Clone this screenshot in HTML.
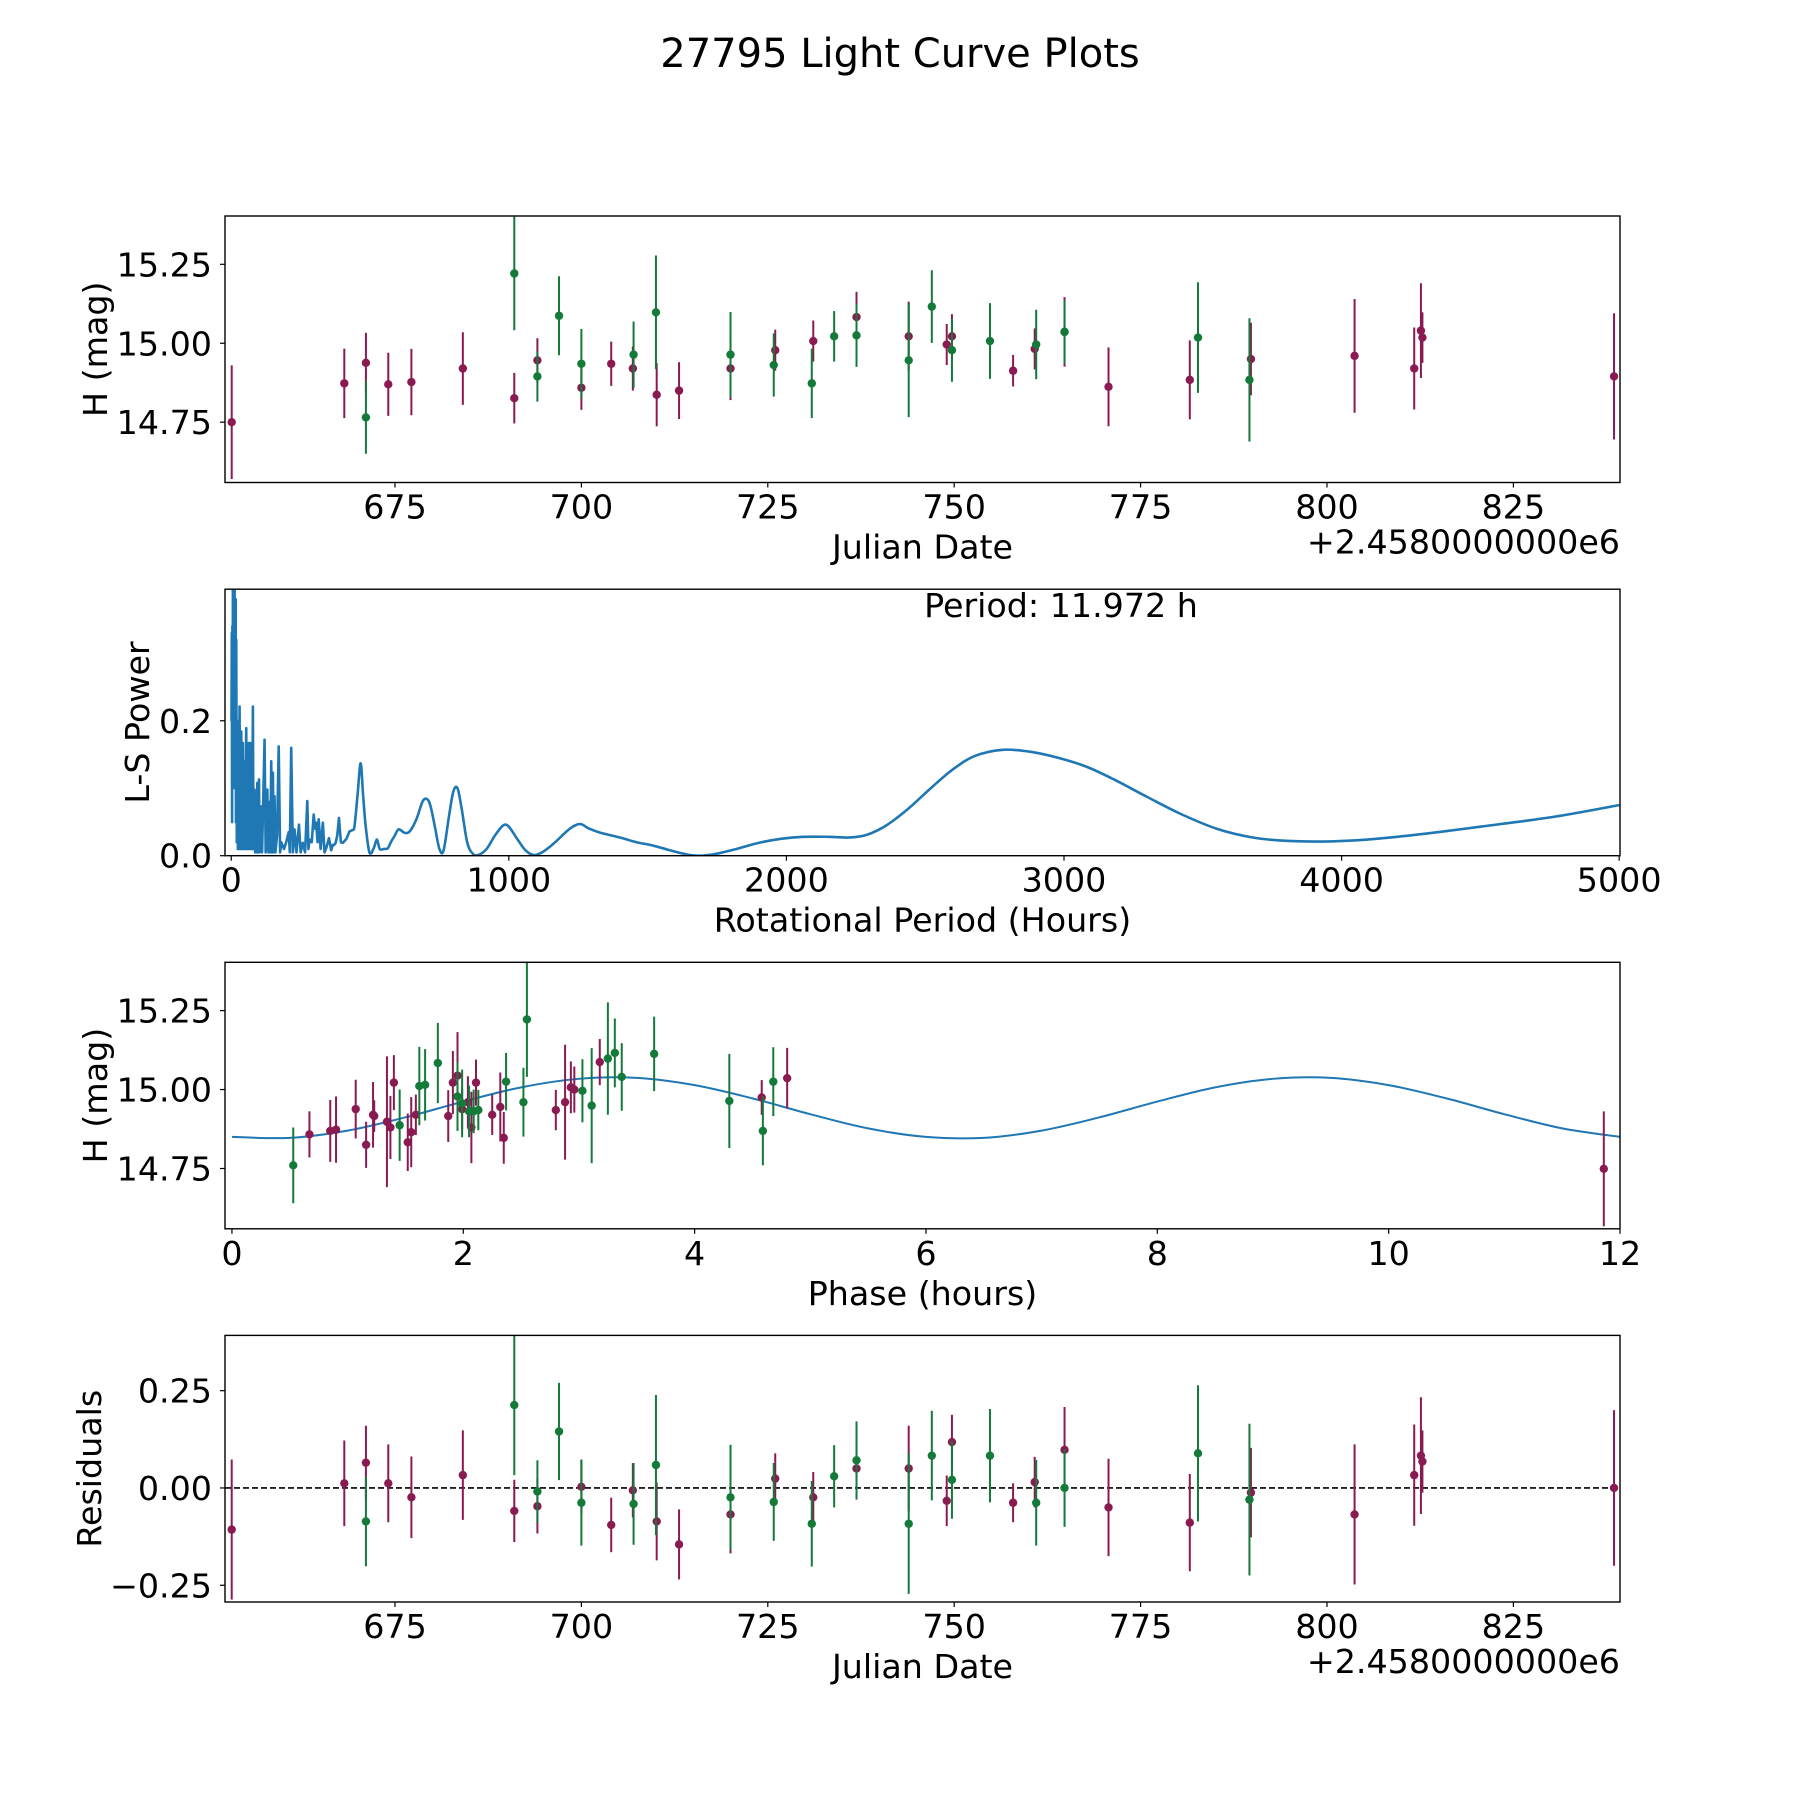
<!DOCTYPE html>
<html><head><meta charset="utf-8"><title>27795 Light Curve Plots</title>
<style>html,body{margin:0;padding:0;background:#fff}svg{display:block}text{font-family:"DejaVu Sans","Liberation Sans",sans-serif;fill:#000}</style>
</head><body>
<svg id="fig" xmlns="http://www.w3.org/2000/svg" width="1800" height="1800" viewBox="0 0 1800 1800">
<rect x="0" y="0" width="1800" height="1800" fill="#fff"/>
<text x="900" y="67" font-size="40" text-anchor="middle">27795 Light Curve Plots</text>
</svg>
<script>
// ---- data: panel 1 & 4 (Julian date offsets from 2458000) ----
const purpleJD = [653.1,668.2,671.1,674.1,677.2,684.1,691.0,694.1,700.0,704.0,706.9,710.1,713.1,720.0,726.0,731.1,736.9,743.9,749.0,749.7,757.9,760.8,764.8,770.7,781.6,789.8,803.7,811.7,812.6,812.8,838.5];
const purpleMag = [14.750,14.873,14.938,14.870,14.877,14.920,14.826,14.946,14.859,14.935,14.920,14.837,14.850,14.920,14.978,15.007,15.083,15.022,14.996,15.022,14.913,14.982,15.036,14.862,14.884,14.950,14.960,14.920,15.040,15.018,14.895];
const purpleErr = [0.18,0.11,0.095,0.10,0.105,0.115,0.08,0.07,0.07,0.07,0.07,0.10,0.09,0.10,0.065,0.065,0.08,0.11,0.065,0.07,0.05,0.065,0.11,0.125,0.125,0.115,0.18,0.13,0.15,0.08,0.2];
const purpleRes = [-0.107,0.012,0.065,0.012,-0.024,0.033,-0.059,-0.047,0.003,-0.095,-0.006,-0.086,-0.145,-0.068,0.024,-0.024,0.05,0.05,-0.033,0.118,-0.038,0.015,0.098,-0.05,-0.089,-0.012,-0.068,0.033,0.083,0.068,0.0];
const greenJD = [671.1,691.0,694.1,697.0,700.0,707.0,710.0,720.0,725.8,730.9,733.9,736.9,743.9,747.0,749.7,754.8,761.0,764.8,782.7,789.6];
const greenMag = [14.765,15.221,14.895,15.087,14.935,14.964,15.098,14.964,14.931,14.873,15.022,15.025,14.946,15.116,14.978,15.007,14.996,15.036,15.018,14.884];
const greenErr = [0.115,0.18,0.08,0.125,0.11,0.105,0.18,0.135,0.10,0.11,0.08,0.10,0.18,0.115,0.10,0.12,0.11,0.10,0.175,0.195];
const greenRes = [-0.086,0.213,-0.009,0.145,-0.038,-0.041,0.059,-0.024,-0.036,-0.092,0.03,0.071,-0.092,0.083,0.021,0.083,-0.038,0.0,0.089,-0.03];
// ---- data: panel 2 periodogram ----
const lsPeriod = [1,2,3,4,5,6,8,10,12,14,16,17,18,20,22,24,27,28,30,32,34,35,36,38,40,41,42,44,48,50,54,56,60,61,63,65,69,71,74,75,78,80,84,86,89,91,94,96,100,102,108,111,120,124,130,134,139,141,144,147,150,153,156,159,165,171,176,180,190,198,207,211,216,222,228,235,244,250,258,266,274,278,282,290,297,302,306,311,315,322,330,336,342,352,360,366,371,376,382,388,395,402,415,426,442,455,466,475,483,495,502,510,516,525,533,538,550,564,575,588,603,624,643,667,690,708,720,735,750,765,785,800,815,830,850,870,890,920,950,980,1000,1030,1060,1090,1120,1150,1180,1220,1256,1290,1330,1400,1460,1520,1580,1640,1690,1750,1820,1900,1980,2060,2150,2230,2290,2360,2440,2520,2600,2680,2780,2880,2980,3080,3180,3300,3420,3550,3680,3800,3930,4060,4200,4350,4500,4650,4800,5000];
const lsPower = [0.2,0.33,0.05,0.34,0.1,0.42,0.2,0.42,0.42,0.1,0.38,0.05,0.32,0.02,0.2,0.01,0.15,0.01,0.221,0.01,0.15,0.01,0.184,0.01,0.12,0.01,0.167,0.01,0.14,0.01,0.189,0.01,0.12,0.01,0.167,0.01,0.167,0.01,0.09,0.01,0.221,0.01,0.098,0.005,0.06,0.005,0.108,0.005,0.113,0.005,0.073,0.005,0.172,0.005,0.098,0.005,0.08,0.005,0.14,0.005,0.123,0.005,0.088,0.005,0.03,0.162,0.005,0.02,0.01,0.02,0.035,0.005,0.16,0.005,0.039,0.005,0.046,0.005,0.019,0.005,0.081,0.01,0.024,0.02,0.061,0.04,0.049,0.02,0.054,0.01,0.049,0.005,0.011,0.026,0.008,0.016,0.016,0.019,0.03,0.056,0.02,0.019,0.025,0.036,0.039,0.09,0.137,0.09,0.049,0.01,0.003,0.008,0.014,0.024,0.012,0.009,0.01,0.011,0.02,0.029,0.039,0.034,0.036,0.054,0.081,0.083,0.07,0.04,0.01,0.008,0.06,0.095,0.1,0.07,0.02,0.003,0.001,0.01,0.03,0.045,0.043,0.025,0.008,0.001,0.005,0.014,0.025,0.04,0.047,0.04,0.034,0.027,0.02,0.015,0.008,0.002,0.0,0.003,0.01,0.019,0.025,0.028,0.028,0.027,0.031,0.045,0.07,0.1,0.128,0.148,0.157,0.154,0.145,0.132,0.113,0.087,0.062,0.04,0.027,0.022,0.021,0.023,0.028,0.035,0.043,0.051,0.06,0.075];
// ---- data: panel 3 folded ----
const foldPurplePhase = [0.67,0.85,0.90,1.07,1.16,1.22,1.23,1.34,1.37,1.40,1.52,1.55,1.59,1.87,1.91,1.95,1.99,2.04,2.07,2.11,2.25,2.32,2.35,2.80,2.88,2.93,2.96,3.18,4.58,4.80,11.86];
const foldPurpleMag = [14.858,14.869,14.873,14.938,14.825,14.920,14.916,14.898,14.880,15.022,14.833,14.865,14.920,14.916,15.022,15.044,14.938,14.960,14.880,15.022,14.920,14.945,14.847,14.935,14.960,15.007,15.000,15.087,14.975,15.036,14.749];
const foldPurpleErr = [0.073,0.098,0.105,0.093,0.073,0.104,0.05,0.207,0.1,0.087,0.091,0.111,0.064,0.082,0.1,0.138,0.064,0.082,0.113,0.073,0.064,0.109,0.082,0.064,0.182,0.082,0.073,0.073,0.055,0.096,0.182];
const foldGreenPhase = [0.53,1.45,1.62,1.67,1.78,1.95,1.99,2.05,2.09,2.13,2.37,2.52,2.55,3.03,3.11,3.25,3.31,3.37,3.65,4.30,4.59,4.68];
const foldGreenMag = [14.760,14.887,15.011,15.015,15.084,14.978,14.956,14.931,14.931,14.935,15.025,14.960,15.222,14.996,14.949,15.098,15.116,15.040,15.113,14.964,14.869,15.025];
const foldGreenErr = [0.12,0.113,0.124,0.113,0.127,0.109,0.107,0.082,0.069,0.064,0.091,0.109,0.182,0.1,0.182,0.178,0.109,0.107,0.118,0.149,0.109,0.109];
const modelPhase = [0,0.5,1,1.5,2,2.5,3,3.5,4,4.5,5,5.5,6,6.5,7,7.5,8,8.5,9,9.5,10,10.5,11,11.5,12];
const modelMag = [14.850,14.847,14.870,14.912,14.962,15.007,15.034,15.037,15.014,14.972,14.922,14.877,14.850,14.847,14.870,14.912,14.962,15.007,15.034,15.037,15.014,14.972,14.922,14.877,14.850];
const jdTicks = [675,700,725,750,775,800,825];
const magTicks = [14.75,15.00,15.25];
const magTickLabels = ["14.75","15.00","15.25"];
const lsXTicks = [0,1000,2000,3000,4000,5000];
const lsYTicks = [0.0,0.2];
const lsYTickLabels = ["0.0","0.2"];
const phaseTicks = [0,2,4,6,8,10,12];
const resTicks = [-0.25,0,0.25];
const resTickLabels = ["\u22120.25","0.00","0.25"];

const NS = "http://www.w3.org/2000/svg";
const fig = document.getElementById('fig');
const PURPLE = "#8a1b52", GREEN = "#137a3a", BLUE = "#1f77b4";
const L = 225, R = 1620, FS = 33.3;
function mk(tag, attrs, parent) {
  const e = document.createElementNS(NS, tag);
  for (const k in attrs) e.setAttribute(k, attrs[k]);
  (parent || fig).appendChild(e);
  return e;
}
function scale(d0, d1, p0, p1) { return v => p0 + (v - d0) * (p1 - p0) / (d1 - d0); }

function makeAxes(name, top, bottom, xd, yd) {
  const g = mk('g', {});
  
  
  const ax = {g, top, bottom, x: scale(xd[0], xd[1], L, R), y: scale(yd[0], yd[1], bottom, top)};
  const clip = mk('clipPath', {id: name + '-clip'}, g);
  mk('rect', {x: L, y: top, width: R - L, height: bottom - top}, clip);
  ax.plot = mk('g', {'clip-path': 'url(#' + name + '-clip)'}, g);
  
  
  return ax;
}
function finishAxes(ax, xt, xl, yt, yl, xlabel, ylabel, ylabelX, offsetText) {
  const f = mk('rect', {x: L, y: ax.top, width: R - L, height: ax.bottom - ax.top, fill: 'none', stroke: '#000', 'stroke-width': 1.4}, ax.g);
  
  
  xt.forEach((v, i) => {
    const px = ax.x(v);
    mk('line', {x1: px, x2: px, y1: ax.bottom, y2: ax.bottom + 5, stroke: '#000', 'stroke-width': 1.2}, ax.g);
    const t = mk('text', {x: px, y: ax.bottom + 36, 'font-size': FS, 'text-anchor': 'middle'}, ax.g);
    
    
    t.textContent = xl[i];
  });
  yt.forEach((v, i) => {
    const py = ax.y(v);
    mk('line', {x1: L - 5, x2: L, y1: py, y2: py, stroke: '#000', 'stroke-width': 1.2}, ax.g);
    const t = mk('text', {x: 212, y: py + 12, 'font-size': FS, 'text-anchor': 'end'}, ax.g);
    
    
    t.textContent = yl[i];
  });
  const xt2 = mk('text', {x: (L + R) / 2, y: ax.bottom + 76, 'font-size': FS, 'text-anchor': 'middle'}, ax.g);
  
  
  xt2.textContent = xlabel;
  const cy = (ax.top + ax.bottom) / 2;
  const yt2 = mk('text', {x: ylabelX, y: cy, 'font-size': FS, 'text-anchor': 'middle', transform: 'rotate(-90 ' + ylabelX + ' ' + cy + ')'}, ax.g);
  
  
  yt2.textContent = ylabel;
  if (offsetText) {
    const o = mk('text', {x: R, y: ax.bottom + 71, 'font-size': FS, 'text-anchor': 'end'}, ax.g);
    
    
    o.textContent = offsetText;
  }
}
function errPoints(ax, xs, ys, es, color, name) {
  const g = mk('g', {}, ax.plot);
  
  
  xs.forEach((xv, i) => {
    const px = ax.x(xv);
    const l = mk('line', {x1: px, x2: px, y1: ax.y(ys[i] + es[i]), y2: ax.y(ys[i] - es[i]), stroke: color, 'stroke-width': 2}, g);
    
    
    const c = mk('circle', {cx: px, cy: ax.y(ys[i]), r: 4.2, fill: color}, g);
    
    
  });
}
function fmtLabels(arr) { return arr.map(v => String(v)); }
function curvePath(P, smoothFrom) {
  let d = 'M' + P[0][0].toFixed(2) + ',' + P[0][1].toFixed(2);
  for (let i = 0; i < P.length - 1; i++) {
    const p1 = P[i], p2 = P[i + 1];
    if (i < smoothFrom) { d += ' L' + p2[0].toFixed(2) + ',' + p2[1].toFixed(2); continue; }
    const p0 = P[Math.max(0, i - 1)], p3 = P[Math.min(P.length - 1, i + 2)];
    const c1x = p1[0] + (p2[0] - p0[0]) / 6, c1y = p1[1] + (p2[1] - p0[1]) / 6;
    const c2x = p2[0] - (p3[0] - p1[0]) / 6, c2y = p2[1] - (p3[1] - p1[1]) / 6;
    d += ' C' + c1x.toFixed(2) + ',' + c1y.toFixed(2) + ' ' + c2x.toFixed(2) + ',' + c2y.toFixed(2) + ' ' + p2[0].toFixed(2) + ',' + p2[1].toFixed(2);
  }
  return d;
}

// Panel 1
const a1 = makeAxes('raw-light-curve', 216, 482.5, [652.2, 839.3], [14.559, 15.403]);
errPoints(a1, purpleJD, purpleMag, purpleErr, PURPLE, 'purple-series');
errPoints(a1, greenJD, greenMag, greenErr, GREEN, 'green-series');
finishAxes(a1, jdTicks, fmtLabels(jdTicks), magTicks, magTickLabels, 'Julian Date', 'H (mag)', 107, '+2.4580000000e6');

// Panel 2
const a2 = makeAxes('periodogram', 589.2, 855.7, [-22.5, 5003], [0, 0.395]);
const lsPts = lsPeriod.map((p, i) => [a2.x(p), a2.y(lsPower[i])]);
let smoothIdx = lsPeriod.findIndex(p => p >= 440);
const pl = mk('path', {d: curvePath(lsPts, smoothIdx), fill: 'none', stroke: BLUE, 'stroke-width': 2.6, 'stroke-linejoin': 'round'}, a2.plot);


finishAxes(a2, lsXTicks, fmtLabels(lsXTicks), lsYTicks, lsYTickLabels, 'Rotational Period (Hours)', 'L-S Power', 149, null);
const pt = mk('text', {x: 1061, y: 617, 'font-size': FS, 'text-anchor': 'middle'}, a2.g);


pt.textContent = 'Period: 11.972 h';

// Panel 3
const a3 = makeAxes('phase-folded', 962.3, 1228.8, [-0.06, 12.0], [14.559, 15.403]);
const m = mk('path', {d: curvePath(modelPhase.map((p, i) => [a3.x(p), a3.y(modelMag[i])]), 0), fill: 'none', stroke: BLUE, 'stroke-width': 2}, a3.plot);


errPoints(a3, foldPurplePhase, foldPurpleMag, foldPurpleErr, PURPLE, 'purple-folded-series');
errPoints(a3, foldGreenPhase, foldGreenMag, foldGreenErr, GREEN, 'green-folded-series');
finishAxes(a3, phaseTicks, fmtLabels(phaseTicks), magTicks, magTickLabels, 'Phase (hours)', 'H (mag)', 107, null);

// Panel 4
const a4 = makeAxes('residuals', 1335.4, 1602, [652.2, 839.3], [-0.293, 0.392]);
const zl = mk('line', {x1: L, x2: R, y1: a4.y(0), y2: a4.y(0), stroke: '#000', 'stroke-width': 1.6, 'stroke-dasharray': '6,3'}, a4.plot);


errPoints(a4, purpleJD, purpleRes, purpleErr, PURPLE, 'purple-residuals');
errPoints(a4, greenJD, greenRes, greenErr, GREEN, 'green-residuals');
finishAxes(a4, jdTicks, fmtLabels(jdTicks), resTicks, resTickLabels, 'Julian Date', 'Residuals', 101, '+2.4580000000e6');
</script>
</body></html>
